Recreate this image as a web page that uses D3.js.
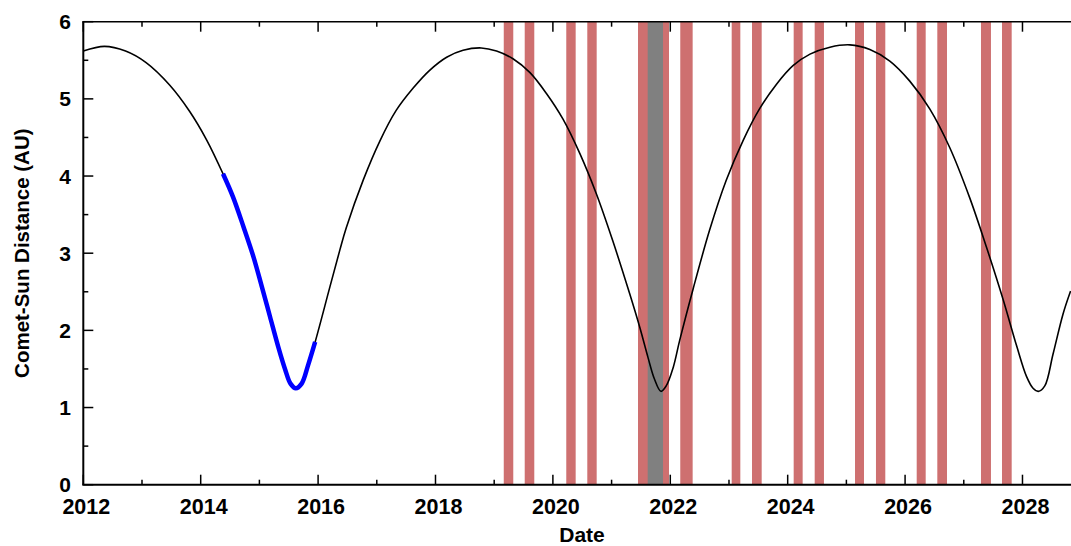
<!DOCTYPE html>
<html>
<head>
<meta charset="utf-8">
<script src="https://cdn.jsdelivr.net/npm/d3@7"></script>
<style>
  body { margin: 0; background: #fff; }
  svg { display: block; }
  text { font-family: "Liberation Sans", Arial, sans-serif; font-weight: bold; fill: #000; }
</style>
</head>
<body>
<svg id="chart" width="1071" height="546"></svg>
<script>
// Heliocentric distance of the comet (decimal year, AU)
const years = [
  2012.00, 2012.36, 2012.72, 2013.07, 2013.47, 2013.81, 2014.10, 2014.38, 2014.55, 2014.73,
  2014.90, 2015.04, 2015.18, 2015.32, 2015.44, 2015.53, 2015.62, 2015.72, 2015.83, 2015.95,
  2016.20, 2016.37, 2016.48, 2016.77, 2017.05, 2017.33, 2017.62, 2017.90, 2018.19, 2018.47,
  2018.78, 2019.04, 2019.32, 2019.61, 2019.89, 2020.17, 2020.46, 2020.74, 2021.02, 2021.31,
  2021.48, 2021.62, 2021.73, 2021.84, 2021.93, 2022.05, 2022.16, 2022.39, 2022.67, 2022.95,
  2023.24, 2023.52, 2023.81, 2024.09, 2024.38, 2024.72, 2025.06, 2025.40, 2025.74, 2026.08,
  2026.42, 2026.76, 2027.10, 2027.39, 2027.67, 2027.90, 2028.07, 2028.18, 2028.27, 2028.38,
  2028.52, 2028.69, 2028.82
];
const distances = [
  5.62, 5.68, 5.62, 5.47, 5.18, 4.84, 4.47, 4.03, 3.73, 3.34,
  2.95, 2.57, 2.18, 1.79, 1.49, 1.31, 1.25, 1.31, 1.55, 1.85,
  2.56, 3.04, 3.33, 3.95, 4.45, 4.85, 5.14, 5.37, 5.54, 5.63,
  5.66, 5.62, 5.52, 5.34, 5.07, 4.74, 4.29, 3.77, 3.16, 2.47,
  2.04, 1.65, 1.37, 1.21, 1.28, 1.52, 1.87, 2.54, 3.30, 3.94,
  4.46, 4.87, 5.19, 5.43, 5.58, 5.67, 5.70, 5.64, 5.49, 5.23,
  4.87, 4.37, 3.72, 3.07, 2.40, 1.80, 1.40, 1.25, 1.21, 1.28,
  1.69, 2.21, 2.51
];

// Period covered by the spacecraft (highlighted in blue)
const missionStart = 2014.38;
const missionEnd = 2015.95;

// Observation windows (red bands)
const windowStart = [2019.163, 2019.520, 2020.228, 2020.586, 2021.450, 2022.170, 2023.046, 2023.392,
                     2024.102, 2024.460, 2025.147, 2025.504, 2026.198, 2026.549, 2027.293, 2027.651];
const windowEnd   = [2019.325, 2019.683, 2020.388, 2020.746, 2021.978, 2022.381, 2023.193, 2023.557,
                     2024.255, 2024.618, 2025.300, 2025.663, 2026.351, 2026.714, 2027.463, 2027.816];

// Window around the next perihelion (grey band)
const greyStart = [2021.615];
const greyEnd = [2021.876];

// Axis ticks
const xMajorTicks = [2012, 2014, 2016, 2018, 2020, 2022, 2024, 2026, 2028];
const xMinorTicks = [2013, 2015, 2017, 2019, 2021, 2023, 2025, 2027];
const yMajorTicks = [0, 1, 2, 3, 4, 5, 6];
const yMinorTicks = [0.5, 1.5, 2.5, 3.5, 4.5, 5.5];

const svg = d3.select("#chart");
const plotLeft = 83.3, plotRight = 1071.2, plotTop = 21.7, plotBottom = 484.7;

const x = d3.scaleLinear().domain([2012, 2028.83]).range([plotLeft, plotRight]);
const y = d3.scaleLinear().domain([0, 6]).range([plotBottom, plotTop]);

svg.append("defs").append("clipPath").attr("id", "plotClip")
  .append("rect").attr("x", plotLeft).attr("y", plotTop)
  .attr("width", plotRight - plotLeft).attr("height", plotBottom - plotTop);

const plot = svg.append("g").attr("clip-path", "url(#plotClip)");

// Red observation bands
plot.append("g").selectAll("rect")
  .data(d3.zip(windowStart, windowEnd))
  .join("rect")
  .attr("x", d => x(d[0]))
  .attr("width", d => x(d[1]) - x(d[0]))
  .attr("y", y(6))
  .attr("height", y(0) - y(6))
  .attr("fill", "#ce7070");

// Grey band
plot.append("g").selectAll("rect")
  .data(d3.zip(greyStart, greyEnd))
  .join("rect")
  .attr("x", d => x(d[0]))
  .attr("width", d => x(d[1]) - x(d[0]))
  .attr("y", y(6))
  .attr("height", y(0) - y(6))
  .attr("fill", "#808080");

const points = d3.zip(years, distances);
const line = d3.line()
  .x(d => x(d[0]))
  .y(d => y(d[1]))
  .curve(d3.curveCatmullRom.alpha(0.5));

plot.append("path")
  .attr("d", line(points))
  .attr("fill", "none")
  .attr("stroke", "#000")
  .attr("stroke-width", 1.6);

plot.append("path")
  .attr("d", line(points.filter(d => d[0] >= missionStart && d[0] <= missionEnd)))
  .attr("fill", "none")
  .attr("stroke", "#0000ff")
  .attr("stroke-width", 4.5)
  .attr("stroke-linejoin", "round");

// Frame lines
const axes = svg.append("g").attr("stroke", "#000");
axes.append("line").attr("x1", plotLeft).attr("x2", plotLeft).attr("y1", plotTop).attr("y2", plotBottom).attr("stroke-width", 2);
axes.append("line").attr("x1", plotLeft - 1).attr("x2", plotRight).attr("y1", plotBottom).attr("y2", plotBottom).attr("stroke-width", 2);
axes.append("line").attr("x1", plotLeft - 1).attr("x2", plotRight).attr("y1", plotTop).attr("y2", plotTop).attr("stroke-width", 1.6);

// Inward ticks on bottom and top
const tickG = svg.append("g").attr("stroke", "#000").attr("stroke-width", 1.5);
function xTicks(vals, len) {
  tickG.append("g").selectAll("line").data(vals).join("line")
    .attr("x1", d => x(d)).attr("x2", d => x(d))
    .attr("y1", plotBottom).attr("y2", plotBottom - len);
  tickG.append("g").selectAll("line").data(vals).join("line")
    .attr("x1", d => x(d)).attr("x2", d => x(d))
    .attr("y1", plotTop).attr("y2", plotTop + len);
}
xTicks(xMajorTicks, 10);
xTicks(xMinorTicks, 5);
function yTicks(vals, len) {
  tickG.append("g").selectAll("line").data(vals).join("line")
    .attr("x1", plotLeft).attr("x2", plotLeft + len)
    .attr("y1", d => y(d)).attr("y2", d => y(d));
}
yTicks(yMajorTicks, 10);
yTicks(yMinorTicks, 5);

// Tick labels
svg.append("g").selectAll("text")
  .data(xMajorTicks)
  .join("text")
  .attr("x", d => x(d) + 3)
  .attr("y", 514)
  .attr("text-anchor", "middle")
  .style("font-size", "21.5px")
  .text(d => d);

svg.append("g").selectAll("text")
  .data(yMajorTicks)
  .join("text")
  .attr("x", 71)
  .attr("y", d => y(d) + 7.5)
  .attr("text-anchor", "end")
  .style("font-size", "21px")
  .text(d => d);

// Axis titles
svg.append("text")
  .attr("x", 582)
  .attr("y", 542)
  .attr("text-anchor", "middle")
  .style("font-size", "21px")
  .text("Date");

svg.append("text")
  .attr("transform", `translate(28.5, ${(plotTop + plotBottom) / 2}) rotate(-90)`)
  .attr("text-anchor", "middle")
  .style("font-size", "20.5px")
  .text("Comet-Sun Distance (AU)");
</script>
</body>
</html>
